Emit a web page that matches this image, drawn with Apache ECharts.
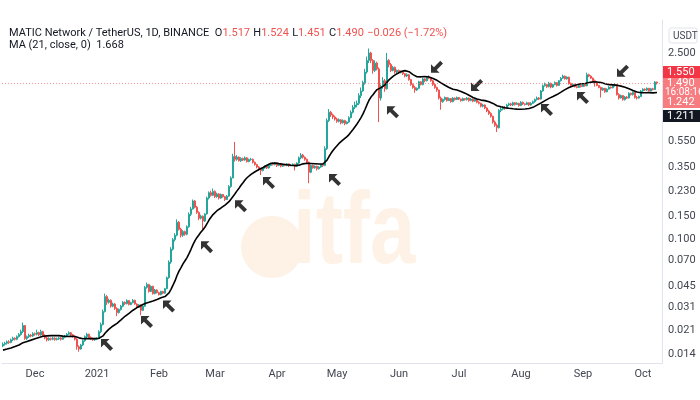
<!DOCTYPE html>
<html><head><meta charset="utf-8">
<script src="https://cdn.jsdelivr.net/npm/echarts@6/dist/echarts.min.js"></script>
<style>html,body{margin:0;padding:0;background:#fff}#c{width:700px;height:400px}</style>
</head><body><div id="c"></div>
<script>
// ---- data (daily candles, Nov 15 2020 .. Oct 8 2021) ----
const startDate = [2020, 10, 15];
const extraDays = 2;
const firstOpen = 0.0160;
const preCloses = [0.0140,0.0142,0.0145,0.0143,0.0141,0.0144,0.0146,0.0148,0.0145,0.0143,0.0146,0.0149,0.0151,0.0150,0.0153,0.0155,0.0152,0.0156,0.0158,0.0160];
const closes = [
0.0165,0.0168,0.0172,0.0170,0.0178,0.0183,0.0180,0.0188,0.0195,0.0205,
0.0228,0.0182,0.0188,0.0193,0.0190,0.0198,0.0196,0.0202,0.0194,0.0205,
0.0192,0.0184,0.0178,0.0182,0.0180,0.0183,0.0179,0.0181,0.0184,0.0180,
0.0186,0.0190,0.0196,0.0201,0.0194,0.0189,0.0180,0.0158,0.0152,0.0163,
0.0175,0.0188,0.0196,0.0185,0.0181,0.0178,0.0180,0.0182,
0.0205,0.0232,0.0290,0.0375,0.0340,0.0352,0.0318,0.0330,0.0305,0.0285,0.0300,
0.0318,0.0340,0.0332,0.0350,0.0327,0.0338,0.0352,0.0330,0.0312,0.0325,0.0296,0.0318,
0.0440,0.0462,0.0410,0.0448,
0.0395,0.0420,0.0402,0.0388,0.0410,0.0398,0.0430,
0.0520,
0.0680,0.0850,0.1000,0.1080,0.1350,
0.1200,0.1080,0.1150,0.1100,0.1250,
0.1550,0.1700,
0.1950,0.1750,0.1600,
0.1450,0.1500,0.1380,0.1560,
0.2050,0.2250,0.2150,0.2300,0.2100,
0.2200,0.2050,0.2180,
0.2100,0.2000,0.2120,
0.2500,0.2900,
0.4200,0.4000,
0.4150,0.3900,0.4050,0.3950,0.4100,0.3850,0.3980,0.4000,0.3800,
0.3650,0.3500,0.3400,0.3300,0.3450,
0.3550,0.3450,0.3600,0.3700,
0.3650,0.3750,0.3600,0.3700,0.3550,0.3650,0.3600,0.3700,0.3580,0.3620,0.3680,0.3550,0.3750,
0.4100,0.4300,0.4150,0.4000,0.3800,
0.3200,
0.3600,0.3450,0.3550,0.3400,0.3500,0.3650,0.3600,
0.4800,0.7800,
0.9000,0.8600,0.8300,
0.8000,0.7700,0.7900,0.7500,0.7800,0.7400,0.7600,0.8200,
0.9000,0.9800,1.0200,
1.0500,1.2000,1.3000,1.5000,
1.8000,
2.2000,2.5000,2.2000,
1.8500,2.1000,1.9000,
1.1500,
1.4000,1.5500,1.3500,
2.2000,
2.0500,1.8500,1.9500,1.8000,
1.8500,1.7800,1.8200,1.7500,
1.6800,1.7200,1.5800,
1.4500,1.3800,1.3200,1.3600,
1.5200,1.4500,1.6000,1.5500,1.6500,
1.6200,1.5500,
1.4500,1.3800,1.3200,
1.1500,1.0800,1.1200,
1.1600,1.1000,1.1400,1.0800,1.1500,1.1200,1.1600,1.1300,1.1000,1.1400,1.1200,1.1500,1.1000,
1.1300,1.0900,1.1200,1.0700,
1.0500,1.0000,1.0200,0.9700,
0.9200,0.8800,0.8400,
0.7600,0.7200,0.6900,
0.9300,0.9500,
0.9800,0.9600,1.0200,
1.0400,1.0200,1.0600,1.0300,1.0500,1.0100,1.0700,1.0400,1.0300,1.0600,1.0200,1.0500,1.0800,
1.1200,1.1500,1.1300,
1.3000,1.4200,1.4500,1.4000,
1.4800,1.3900,1.4500,1.5000,1.4300,
1.5500,1.6200,1.6800,1.6000,1.6500,
1.4800,1.4200,1.4600,
1.4000,1.3800,1.4300,1.4000,1.4500,1.4200,
1.7200,1.6800,1.6200,
1.5500,1.5000,1.4300,
1.3800,1.3200,1.3600,1.2800,1.3400,
1.3900,1.3700,1.4200,1.4500,
1.2200,1.1500,1.2000,1.1200,1.1700,1.1500,
1.2500,1.2200,1.2700,
1.1600,1.1500,1.1800,
1.3000,1.3400,1.3200,1.3600,1.3000,1.3500,1.3300,
1.5170,1.4900
];
const highs = [
0.0170,0.0172,0.0176,0.0177,0.0182,0.0188,0.0186,0.0192,0.0200,0.0212,
0.0240,0.0230,0.0192,0.0198,0.0197,0.0203,0.0202,0.0212,0.0205,0.0212,
0.0208,0.0196,0.0187,0.0186,0.0185,0.0187,0.0186,0.0185,0.0188,0.0187,
0.0189,0.0194,0.0200,0.0206,0.0204,0.0197,0.0192,0.0183,0.0162,0.0166,
0.0178,0.0192,0.0201,0.0198,0.0189,0.0185,0.0184,0.0186,
0.0210,0.0240,0.0300,0.0395,0.0385,0.0362,0.0358,0.0338,0.0335,0.0312,0.0306,
0.0325,0.0346,0.0345,0.0358,0.0354,0.0343,0.0360,0.0355,0.0334,0.0330,0.0328,0.0322,
0.0450,0.0478,0.0468,0.0455,
0.0452,0.0428,0.0425,0.0408,0.0415,0.0414,0.0436,
0.0530,
0.0700,0.0880,0.1030,0.1120,0.1420,
0.1380,0.1230,0.1180,0.1170,0.1280,
0.1600,0.1760,
0.2000,0.1980,0.1790,
0.1630,0.1540,0.1520,0.1580,
0.2100,0.2300,0.2330,0.2420,0.2340,
0.2250,0.2230,0.2220,
0.2200,0.2130,0.2160,
0.2560,0.2980,
0.4400,0.5400,
0.4300,0.4200,0.4150,0.4120,0.4200,0.4150,0.4050,0.4100,0.4050,
0.3850,0.3700,0.3560,0.3450,0.3500,
0.3600,0.3600,0.3650,0.3750,
0.3780,0.3800,0.3800,0.3750,0.3720,0.3700,0.3700,0.3750,0.3720,0.3680,0.3720,0.3700,0.3800,
0.4200,0.4450,0.4400,0.4200,0.4050,
0.3850,
0.3650,0.3650,0.3600,0.3580,0.3550,0.3700,0.3700,
0.5000,0.8100,
0.9500,0.9200,0.8800,
0.8500,0.8200,0.8100,0.8000,0.7950,0.7900,0.7700,0.8400,
0.9300,1.0200,1.0800,
1.1000,1.2500,1.3800,1.5500,
1.9000,
2.3500,2.7000,2.5500,
2.2500,2.2000,2.1500,
1.9500,
1.4500,1.6500,1.6000,
2.5000,
2.2500,2.1000,2.0000,1.9800,
1.8800,1.8800,1.8500,1.8400,
1.7700,1.7600,1.7400,
1.6000,1.4800,1.4200,1.3800,
1.5500,1.5400,1.6300,1.6200,1.6800,
1.7000,1.6500,
1.5700,1.4800,1.4000,
1.3300,1.1800,1.1400,
1.1800,1.1700,1.1600,1.1500,1.1700,1.1600,1.1800,1.1700,1.1400,1.1600,1.1500,1.1700,1.1600,
1.1500,1.1400,1.1300,1.1300,
1.0900,1.0600,1.0400,1.0300,
0.9800,0.9400,0.9000,
0.8500,0.7800,0.7400,
0.9500,0.9900,
1.0000,1.0000,1.0400,
1.0600,1.0600,1.0800,1.0700,1.0700,1.0600,1.0900,1.0800,1.0500,1.0800,1.0700,1.0700,1.1000,
1.1400,1.1800,1.1700,
1.3200,1.4500,1.5000,1.4700,
1.5200,1.5000,1.4700,1.5300,1.5100,
1.5700,1.6500,1.7200,1.6900,1.6700,
1.6600,1.5000,1.4800,
1.4700,1.4200,1.4500,1.4400,1.4700,1.4600,
1.7800,1.7500,1.7000,
1.6400,1.5800,1.5200,
1.4400,1.4000,1.3800,1.3700,1.3600,
1.4100,1.4000,1.4400,1.4800,
1.4600,1.2500,1.2200,1.2100,1.1900,1.1900,
1.2700,1.2600,1.2900,
1.2800,1.1900,1.2000,
1.3200,1.3600,1.3600,1.3800,1.3700,1.3700,1.3700,
1.5400,1.5240
];
const lows = [
0.0157,0.0161,0.0164,0.0166,0.0168,0.0174,0.0176,0.0177,0.0185,0.0191,
0.0200,0.0178,0.0177,0.0184,0.0186,0.0187,0.0191,0.0192,0.0190,0.0191,
0.0189,0.0180,0.0173,0.0175,0.0176,0.0177,0.0175,0.0176,0.0178,0.0176,
0.0178,0.0183,0.0187,0.0193,0.0190,0.0185,0.0176,0.0150,0.0145,0.0150,
0.0160,0.0172,0.0184,0.0183,0.0178,0.0175,0.0175,0.0177,
0.0180,0.0200,0.0228,0.0285,0.0325,0.0332,0.0310,0.0312,0.0298,0.0268,0.0280,
0.0295,0.0312,0.0325,0.0328,0.0322,0.0323,0.0334,0.0326,0.0305,0.0308,0.0272,0.0292,
0.0315,0.0430,0.0402,0.0405,
0.0388,0.0390,0.0396,0.0382,0.0384,0.0392,0.0394,
0.0425,
0.0510,0.0660,0.0830,0.0970,0.1060,
0.1170,0.1040,0.1050,0.1070,0.1080,
0.1230,0.1500,
0.1680,0.1720,0.1560,
0.1400,0.1420,0.1180,0.1360,
0.1540,0.2000,0.2100,0.2120,0.2050,
0.2060,0.2000,0.2020,
0.2060,0.1950,0.1980,
0.2100,0.2450,
0.2880,0.3850,
0.3900,0.3850,0.3820,0.3880,0.3900,0.3780,0.3800,0.3900,0.3720,
0.3580,0.3420,0.3300,0.3050,0.3250,
0.3400,0.3380,0.3400,0.3550,
0.3600,0.3600,0.3500,0.3550,0.3480,0.3500,0.3550,0.3550,0.3500,0.3550,0.3580,0.3300,0.3500,
0.3700,0.4000,0.4050,0.3900,0.3700,
0.2650,
0.3150,0.3400,0.3400,0.3300,0.3350,0.3450,0.3500,
0.3550,0.4700,
0.7600,0.8300,0.8000,
0.7800,0.7500,0.7550,0.7300,0.7400,0.7200,0.7300,0.7500,
0.8100,0.8800,0.9500,
0.9800,1.0200,1.1500,1.2800,
1.4500,
1.7500,2.1000,2.1000,
1.7500,1.8000,1.8500,
0.7600,
1.1000,1.3500,1.2800,
1.3300,
1.9500,1.8000,1.8200,1.7500,
1.7600,1.7400,1.7600,1.7100,
1.6400,1.6500,1.5500,
1.4200,1.3500,1.2600,1.3000,
1.3400,1.4300,1.4300,1.5100,1.5300,
1.5900,1.5200,
1.4200,1.3500,1.2800,
1.1200,0.9400,1.0600,
1.1000,1.0800,1.0900,1.0600,1.0700,1.1000,1.1100,1.1100,1.0800,1.0900,1.1000,1.1000,1.0800,
1.0900,1.0700,1.0800,1.0500,
1.0300,0.9800,0.9800,0.9500,
0.9000,0.8600,0.8200,
0.7400,0.7000,0.6400,
0.6800,0.9000,
0.9300,0.9400,0.9500,
1.0000,1.0000,1.0000,1.0100,1.0200,0.9900,1.0000,1.0200,1.0100,1.0200,1.0000,1.0100,1.0400,
1.0600,1.1000,1.1100,
1.1200,1.2800,1.4000,1.3700,
1.3800,1.3600,1.3700,1.4300,1.4000,
1.4200,1.5300,1.6000,1.5800,1.5800,
1.4500,1.3800,1.4000,
1.3800,1.3600,1.3700,1.3800,1.3900,1.4000,
1.4100,1.6500,1.6000,
1.5300,1.4000,1.4100,
1.3600,1.1600,1.3000,1.2600,1.2700,
1.3300,1.3500,1.3600,1.4000,
1.2000,1.1200,1.1400,1.1000,1.1000,1.1300,
1.1400,1.2000,1.2000,
1.1400,1.1200,1.1400,
1.1700,1.2800,1.3000,1.3000,1.2900,1.2900,1.3100,
1.3200,1.4510
];
const maPeriod = 21;
const yTicks = [0.014,0.021,0.031,0.045,0.070,0.100,0.150,0.230,0.350,0.550,2.500];
const monthNames = ['2021','Feb','Mar','Apr','May','Jun','Jul','Aug','Sep','Oct','Nov','Dec'];
// annotation arrows: [day index, price]
const upArrows = [[52,0.0163],[72,0.0242],[83,0.0316],[102,0.088],[119,0.178],[133,0.266],[166,0.280],[195,0.90],[272,0.935],[290,1.15]];
const downArrows = [[217,1.97],[237,1.44],[310,1.84]];
const lastPrice = 1.490;

// ---- build ----
function fmt(d){const m=d.getUTCMonth()+1, dd=d.getUTCDate();return d.getUTCFullYear()+'-'+(m<10?'0':'')+m+'-'+(dd<10?'0':'')+dd;}
const dates = [];
for (let i=0;i<closes.length+extraDays;i++){dates.push(fmt(new Date(Date.UTC(startDate[0],startDate[1],startDate[2]+i))));}
const candles = closes.map((c,i)=>{const o=i===0?firstOpen:closes[i-1];return [o,c,Math.min(lows[i],o,c),Math.max(highs[i],o,c)];});
const all = preCloses.concat(closes);
const ma = closes.map((c,i)=>{let s=0;for(let k=i+preCloses.length-maPeriod+1;k<=i+preCloses.length;k++)s+=all[k];return +(s/maPeriod).toFixed(5);});

const chart = echarts.init(document.getElementById('c'), null, {renderer:'canvas'});
const UP='#26a69a', DN='#ef5350';
const arrowUL='path://M0,0 L10,0 L6.6,3.4 L14,10.8 L10.8,14 L3.4,6.6 L0,10 Z';
const arrowDL='path://M0,14 L10,14 L6.6,10.6 L14,3.2 L10.8,0 L3.4,7.4 L0,4 Z';
const font='Roboto, "Liberation Sans", sans-serif';

chart.setOption({
  animation:false,
  backgroundColor:'#ffffff',
  grid:{left:2, right:38, top:20, bottom:37},
  xAxis:{type:'category', data:dates, boundaryGap:true,
    axisLine:{show:true, lineStyle:{color:'#e0e3eb'}}, axisTick:{show:false}, splitLine:{show:false},
    axisLabel:{interval:(i,v)=>v.slice(8)==='01', formatter:v=>{const m=+v.slice(5,7);return m===1?v.slice(0,4):monthNames[m-1];}, color:'#434651', fontSize:11, fontFamily:font, margin:6}},
  yAxis:{type:'log', logBase:10, min:0.01194, max:4.415, position:'right',
    axisLine:{show:true, lineStyle:{color:'#e0e3eb'}}, axisTick:{show:false}, splitLine:{show:false},
    axisLabel:{customValues:yTicks, formatter:v=>v.toFixed(3), color:'#434651', fontSize:11, fontFamily:font, margin:6}},
  series:[
    {type:'candlestick', data:candles, barWidth:1.7,
      itemStyle:{color:UP, color0:DN, borderColor:UP, borderColor0:DN, borderWidth:1},
      markLine:{silent:true, symbol:'none', label:{show:false},
        lineStyle:{color:DN, type:[1,2], width:1, opacity:0.6},
        data:[{yAxis:lastPrice}]}},
    {type:'line', data:ma, showSymbol:false, symbol:'none', lineStyle:{color:'#000', width:1.6}, z:3},
    {type:'scatter', data:upArrows.map(a=>[dates[a[0]],a[1]]), symbol:arrowUL, symbolSize:12, itemStyle:{color:'#000'}, z:4},
    {type:'scatter', data:downArrows.map(a=>[dates[a[0]],a[1]]), symbol:arrowDL, symbolSize:12, itemStyle:{color:'#000'}, z:4}
  ],
  graphic:[
    {type:'group', z:-10, silent:true, children:[
      {type:'circle', shape:{cx:272, cy:247, r:31}, style:{fill:'#fdf2e5'}},
      {type:'text', x:293, y:184, scaleX:0.8, style:{text:'itfa', font:'bold 102px "Liberation Sans", Arial', fill:'#fdf2e5'}}
    ]},
    {type:'text', x:9, y:27, style:{text:'{g|MATIC Network / TetherUS, 1D, BINANCE  }{g|O}{r|1.517} {g|H}{r|1.524} {g|L}{r|1.451} {g|C}{r|1.490} {r|\u22120.026 (\u22121.72%)}', rich:{g:{fill:'#131722', fontSize:11, fontFamily:font}, r:{fill:'#ef5350', fontSize:11, fontFamily:font}}}},
    {type:'text', x:9, y:40, style:{text:'MA (21, close, 0)  1.668', fill:'#131722', fontSize:11, fontFamily:font}},
    {type:'rect', shape:{x:669, y:28, width:28, height:15, r:2}, style:{fill:'#fff', stroke:'#e0e3eb'}},
    {type:'text', x:673, y:31, style:{text:'USDT', fill:'#434651', fontSize:10, fontFamily:font}},
    {type:'rect', shape:{x:663, y:66, width:37, height:12}, style:{fill:'#f23645'}},
    {type:'text', x:667, y:67, style:{text:'1.550', fill:'#fff', fontSize:11, fontFamily:font}},
    {type:'rect', shape:{x:663, y:78, width:37, height:30}, style:{fill:'#f77c80'}},
    {type:'text', x:667, y:78, style:{text:'1.490', fill:'#fff', fontSize:11, fontFamily:font}},
    {type:'text', x:665, y:87, style:{text:'16:08:16', fill:'#fff', fontSize:10, fontFamily:font}},
    {type:'text', x:667, y:97, style:{text:'1.242', fill:'#fff', fontSize:11, fontFamily:font}},
    {type:'rect', shape:{x:663, y:110, width:37, height:12}, style:{fill:'#131722'}},
    {type:'text', x:667, y:111, style:{text:'1.211', fill:'#fff', fontSize:11, fontFamily:font}}
  ]
});
</script></body></html>
